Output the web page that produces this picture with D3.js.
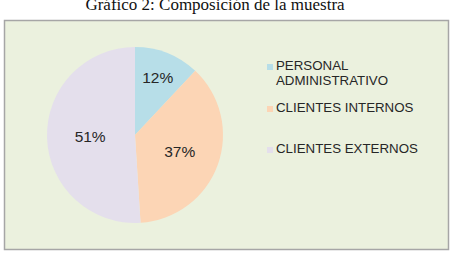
<!DOCTYPE html>
<html>
<head>
<meta charset="utf-8">
<script src="https://cdn.jsdelivr.net/npm/d3@7"></script>
<style>
  body { margin: 0; background: #fff; }
</style>
</head>
<body>
<div id="chart"></div>
<script>
const width = 451;
const height = 253;

const categories = ['PERSONAL ADMINISTRATIVO', 'CLIENTES INTERNOS', 'CLIENTES EXTERNOS'];
const values = [12, 37, 51];
const colors = ['#b7dee8', '#fcd5b5', '#e4dfec'];
const legendLines = [['PERSONAL', 'ADMINISTRATIVO'], ['CLIENTES INTERNOS'], ['CLIENTES EXTERNOS']];
const legendY = [70, 112, 153];
// label distance from centre, as a share of the radius (Excel "best fit")
const labelPos = [0.70, 0.54, 0.51];

const svg = d3.select('#chart').append('svg')
    .attr('width', width)
    .attr('height', height);

svg.append('text')
    .attr('x', 215)
    .attr('y', 10)
    .attr('text-anchor', 'middle')
    .style('font-family', '"Liberation Serif", "Times New Roman", serif')
    .style('font-size', '17px')
    .attr('fill', '#111')
    .text('Gráfico 2: Composición de la muestra');

// chart area box
svg.append('rect')
    .attr('x', 4.5)
    .attr('y', 20.5)
    .attr('width', 444)
    .attr('height', 229)
    .attr('fill', '#ebf1de')
    .attr('stroke', '#a6a6a6')
    .attr('stroke-width', 1.5);

const cx = 135, cy = 135, r = 88;
const pie = d3.pie().sort(null).value(d => d);
const arc = d3.arc().innerRadius(0).outerRadius(r);
const arcs = pie(values);

const g = svg.append('g').attr('transform', `translate(${cx},${cy})`);
g.selectAll('path')
  .data(arcs)
  .join('path')
    .attr('d', arc)
    .attr('fill', (d, i) => colors[i]);

g.selectAll('text')
  .data(arcs)
  .join('text')
    .attr('transform', (d, i) => {
      const lr = r * labelPos[i];
      return `translate(${d3.arc().innerRadius(lr).outerRadius(lr).centroid(d)})`;
    })
    .attr('text-anchor', 'middle')
    .attr('dy', '0.35em')
    .style('font-family', '"Liberation Sans", Arial, sans-serif')
    .style('font-size', '15.5px')
    .attr('fill', '#262626')
    .text(d => d.data + '%');

const legend = svg.append('g');
const item = legend.selectAll('g')
  .data(categories)
  .join('g')
    .attr('transform', (d, i) => `translate(267,${legendY[i]})`);

item.append('rect')
    .attr('x', 0)
    .attr('y', -6)
    .attr('width', 6)
    .attr('height', 6)
    .attr('fill', (d, i) => colors[i]);

item.append('text')
    .attr('x', 9)
    .style('font-family', '"Liberation Sans", Arial, sans-serif')
    .style('font-size', '13.3px')
    .attr('fill', '#262626')
    .selectAll('tspan')
    .data((d, i) => legendLines[i])
    .join('tspan')
      .attr('x', 9)
      .attr('dy', (d, j) => j === 0 ? 0 : 15)
      .text(d => d);
</script>
</body>
</html>
